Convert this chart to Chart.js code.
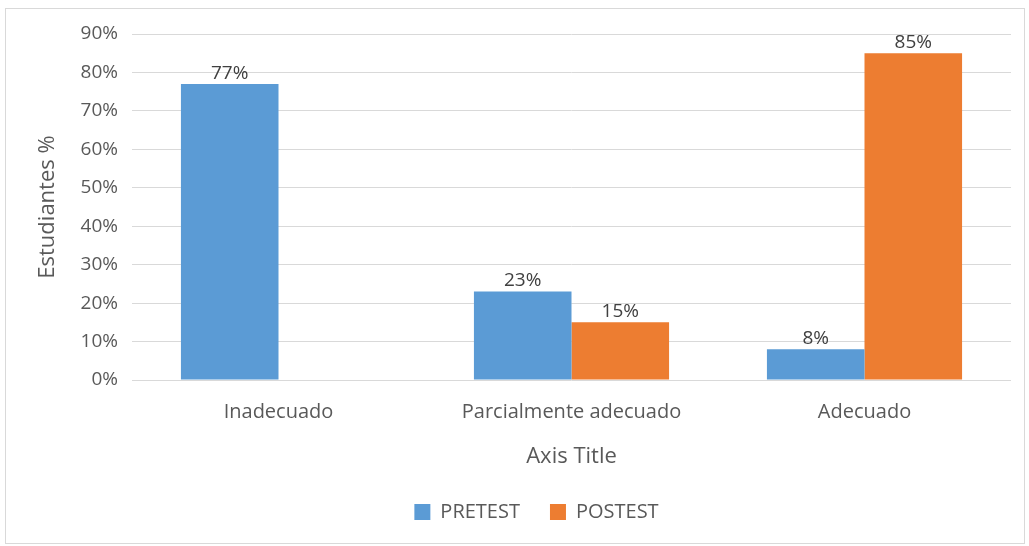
<!DOCTYPE html>
<html>
<head>
<meta charset="utf-8">
<script src="https://cdn.jsdelivr.net/npm/chart.js@4"></script>
<style>
  html, body { margin: 0; padding: 0; background: #fff; }
  #frame { position: absolute; left: 5px; top: 8px; width: 1018px; height: 534px; border: 1px solid #d9d9d9; }
  #wrap { position: absolute; left: 0; top: 0; width: 1029px; height: 546px; }
</style>
</head>
<body>
<div id="frame"></div>
<div id="wrap"><canvas id="myChart"></canvas></div>
<script>
const categories = ["Inadecuado", "Parcialmente adecuado", "Adecuado"];
const pretest = [77, 23, 8];
const postest = [0, 15, 85];
const yTicks = [0, 10, 20, 30, 40, 50, 60, 70, 80, 90];

const font = "'Open Sans', sans-serif";
const textColor = "#595959";

// labels on top of the bars, 0 values are not shown
const barLabels = {
  id: "barLabels",
  afterDatasetsDraw(chart) {
    const ctx = chart.ctx;
    ctx.save();
    ctx.font = "19px " + font;
    ctx.fillStyle = "#404040";
    ctx.textAlign = "center";
    ctx.textBaseline = "bottom";
    chart.data.datasets.forEach((ds, i) => {
      chart.getDatasetMeta(i).data.forEach((bar, j) => {
        if (!ds.data[j]) return;
        ctx.fillText(ds.data[j] + "%", bar.x, bar.y - 1);
      });
    });
    ctx.restore();
  },
};

const data = {
  labels: categories,
  datasets: [
    { label: "PRETEST", data: pretest, backgroundColor: "#5B9BD5" },
    { label: "POSTEST", data: postest, backgroundColor: "#ED7D31" },
  ],
};

const config = {
  type: "bar",
  data: data,
  plugins: [barLabels],
  options: {
    responsive: true,
    maintainAspectRatio: false,
    animation: false,
    layout: { padding: { top: 34, right: 18, left: 62, bottom: 14 } },
    datasets: { bar: { categoryPercentage: 0.666, barPercentage: 1.0 } },
    plugins: {
      tooltip: { enabled: false },
      legend: {
        position: "bottom",
        labels: {
          boxWidth: 16,
          boxHeight: 16,
          padding: 30,
          color: textColor,
          font: { family: font, size: 20 },
        },
      },
    },
    scales: {
      x: {
        grid: { display: false, drawTicks: false },
        border: { display: false },
        ticks: { color: textColor, padding: 20, font: { family: font, size: 20 } },
        title: {
          display: true,
          text: "Axis Title",
          color: textColor,
          padding: { top: 14, bottom: 2 },
          font: { family: font, size: 22 },
        },
        afterFit: (axis) => { axis.height = 92; },
      },
      y: {
        min: 0,
        max: 90,
        afterBuildTicks: (axis) => { axis.ticks = yTicks.map((v) => ({ value: v })); },
        grid: { color: "#d9d9d9", drawTicks: false },
        border: { display: false },
        ticks: {
          color: textColor,
          padding: 14,
          font: { family: font, size: 19 },
          callback: (v) => v + "%",
        },
        title: {
          display: true,
          text: "Estudiantes %",
          color: textColor,
          padding: { top: -27, bottom: 4 },
          font: { family: font, size: 22 },
        },
        afterFit: (axis) => { axis.width = 70; },
      },
    },
  },
};

const ctx = document.getElementById("myChart").getContext("2d");
new Chart(ctx, config);
</script>
</body>
</html>
